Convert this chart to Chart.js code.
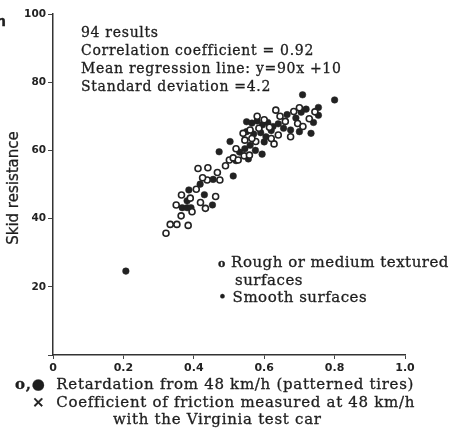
<!DOCTYPE html>
<html lang="en">
  <head>
    <meta charset="UTF-8" />
    <title>Skid resistance</title>
    <style>
      body {
        margin: 0;
        background: #fff;
      }

      .wrap {
        position: relative;
        width: 454px;
        height: 434px;
        overflow: hidden;
        color: #1e1e1e;
        font-family: "DejaVu Serif", serif;
      }

      canvas {
        position: absolute;
        left: 0;
        top: 0;
      }

      .note {
        position: absolute;
        white-space: nowrap;
        font-size: 14px;
        line-height: 18px;
        letter-spacing: 0.7px;
        -webkit-text-stroke: 0.3px #1e1e1e;
      }

      .ytitle {
        position: absolute;
        left: 13px;
        top: 188px;
        transform: translate(-50%, -50%) rotate(-90deg);
        font-family: "DejaVu Sans", sans-serif;
        font-size: 15px;
        white-space: nowrap;
        -webkit-text-stroke: 0.3px #1e1e1e;
      }
    </style>
  </head>
  <body>
    <div class="wrap">
      <canvas id="chart" width="454" height="434"></canvas>

      <div class="note" style="left: -4px; top: 12px; font-family: 'DejaVu Sans'; font-weight: bold">n</div>
      <div class="ytitle">Skid resistance</div>

      <div class="note" style="left: 81px; top: 23px">
        94 results<br />
        Correlation coefficient = 0.92<br />
        Mean regression line: y=90x +10<br />
        Standard deviation =4.2
      </div>

      <div class="note" style="left: 218px; top: 254px; font-size: 15px; line-height: 16px; letter-spacing: 0.5px">
        <b style="font-size: 11px">o</b>&nbsp;Rough or medium textured<br />
        <span style="padding-left: 17px">surfaces</span><br />
        <span style="display: inline-block; margin-top: 1px">•&nbsp;Smooth surfaces</span>
      </div>

      <div class="note" style="left: 15px; top: 376px; font-size: 15px; line-height: 17.5px; letter-spacing: 0.7px">
        <b>o,●</b>&nbsp; Retardation from 48 km/h (patterned tires)<br />
        <span style="padding-left: 17px"><b>×</b>&nbsp; Coefficient of friction measured at 48 km/h</span><br />
        <span style="padding-left: 98px">with the Virginia test car</span>
      </div>
    </div>

    <script src="https://cdn.jsdelivr.net/npm/chart.js"></script>

    <script>
      // rough or medium textured surfaces (open circles)
      const roughX = [
        0.321, 0.333, 0.352, 0.384, 0.364, 0.365, 0.419, 0.433, 0.462, 0.407,
        0.438, 0.412, 0.44, 0.467, 0.474, 0.501, 0.512, 0.526, 0.543, 0.558,
        0.545, 0.576, 0.628, 0.633, 0.728, 0.695, 0.744, 0.684, 0.585, 0.615,
        0.64, 0.66, 0.6, 0.52, 0.565, 0.39, 0.425, 0.675, 0.71, 0.645, 0.58,
        0.54, 0.49, 0.7, 0.35, 0.395, 0.62, 0.56,
      ];
      const roughY = [
        35.7, 38.3, 38.3, 38.0, 40.8, 46.9, 44.7, 43.0, 46.5, 48.6, 51.3, 54.7,
        54.9, 53.5, 51.3, 57.2, 57.8, 57.2, 58.4, 58.6, 63.0, 62.6, 61.9, 71.8,
        69.3, 67.9, 71.3, 71.4, 66.5, 66.8, 64.5, 68.5, 69.0, 60.5, 63.5, 46.0,
        52.0, 64.0, 67.0, 70.0, 70.0, 65.0, 55.5, 72.5, 44.0, 42.0, 63.5, 66.0,
      ];

      // smooth surfaces (filled circles)
      const smoothX = [
        0.207, 0.709, 0.8, 0.754, 0.754, 0.733, 0.719, 0.503, 0.472, 0.512,
        0.386, 0.381, 0.367, 0.381, 0.392, 0.453, 0.418, 0.594, 0.55, 0.565,
        0.58, 0.595, 0.61, 0.625, 0.64, 0.655, 0.55, 0.57, 0.59, 0.605, 0.62,
        0.675, 0.69, 0.705, 0.7, 0.56, 0.575, 0.545, 0.53, 0.6, 0.455, 0.43,
        0.665, 0.74, 0.555, 0.52,
      ];
      const smoothY = [
        24.6, 76.3, 74.8, 72.6, 70.3, 65.0, 72.1, 62.6, 59.6, 52.5, 48.4, 45.2,
        43.2, 43.2, 43.2, 44.0, 50.1, 58.9, 68.4, 68.0, 68.6, 67.5, 68.2, 67.0,
        67.8, 66.5, 65.5, 64.8, 65.2, 64.0, 65.8, 66.0, 69.5, 71.2, 65.5, 61.5,
        60.0, 60.5, 59.5, 62.5, 51.5, 47.0, 70.5, 68.2, 57.5, 57.0,
      ];

      const xTicks = [0, 0.2, 0.4, 0.6, 0.8, 1.0];
      const yTicks = [0, 20, 40, 60, 80, 100];

      const toPoints = (xs, ys) => xs.map((x, i) => ({ x, y: ys[i] }));

      const ink = "#222";

      new Chart(document.getElementById("chart"), {
        type: "scatter",
        data: {
          datasets: [
            {
              label: "Rough or medium textured surfaces",
              data: toPoints(roughX, roughY),
              pointRadius: 3,
              pointBorderWidth: 1.6,
              borderColor: ink,
              backgroundColor: "#fff",
            },
            {
              label: "Smooth surfaces",
              data: toPoints(smoothX, smoothY),
              pointRadius: 3.3,
              pointBorderWidth: 0.5,
              borderColor: ink,
              backgroundColor: ink,
            },
          ],
        },
        options: {
          responsive: false,
          animation: false,
          layout: {
            padding: { left: 0, top: 14, right: 49, bottom: 0 },
          },
          plugins: {
            legend: { display: false },
            tooltip: { enabled: false },
          },
          scales: {
            x: {
              type: "linear",
              min: 0,
              max: 1,
              afterBuildTicks: (scale) => {
                scale.ticks = xTicks.map((value) => ({ value }));
              },
              afterFit: (scale) => {
                scale.height = 79;
              },
              ticks: {
                color: ink,
                padding: 3,
                font: { family: "DejaVu Sans", size: 11, weight: "bold" },
                callback: (v) => (v === 0 ? "0" : v.toFixed(1)),
              },
              grid: {
                drawOnChartArea: false,
                tickLength: 4,
                color: "#444",
              },
              border: { color: "#333", width: 1.5 },
            },
            y: {
              min: 0,
              max: 100,
              afterBuildTicks: (scale) => {
                scale.ticks = yTicks.map((value) => ({ value }));
              },
              afterFit: (scale) => {
                scale.width = 53;
              },
              ticks: {
                color: ink,
                padding: 2,
                font: { family: "DejaVu Sans", size: 10.5, weight: "bold" },
                callback: (v) => (v === 0 ? "" : String(v)),
              },
              grid: {
                drawOnChartArea: false,
                tickLength: 5,
                color: "#444",
              },
              border: { color: "#333", width: 1.5 },
            },
          },
        },
      });
    </script>
  </body>
</html>
